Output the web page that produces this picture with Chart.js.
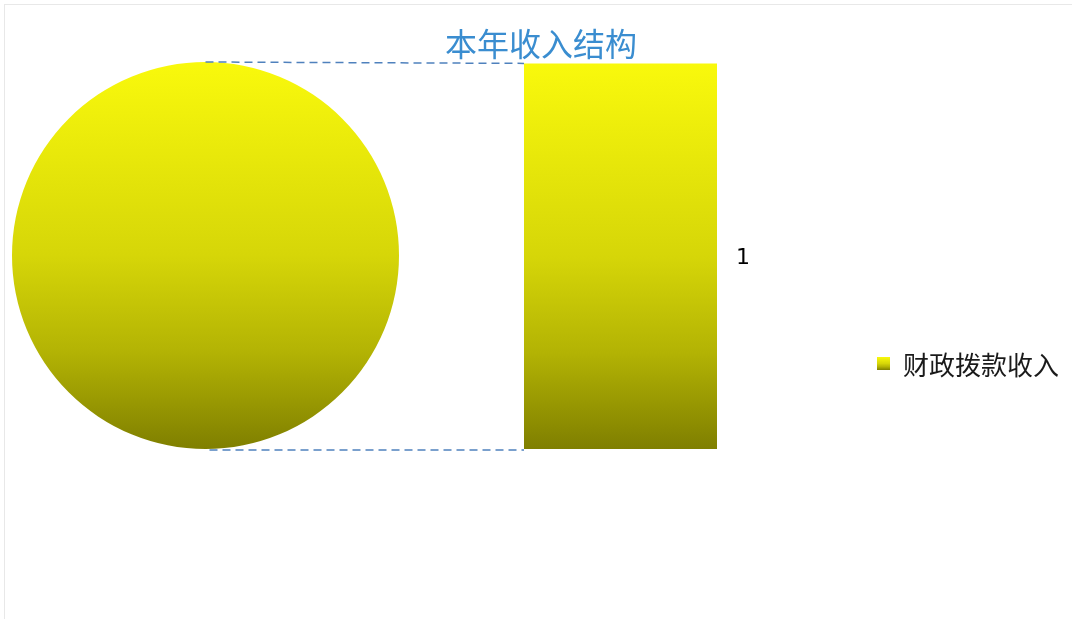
<!DOCTYPE html>
<html>
<head>
<meta charset="utf-8">
<title>本年收入结构</title>
<script src="https://cdn.jsdelivr.net/npm/chart.js@4.4.1/dist/chart.umd.min.js"></script>
<style>
  html, body { margin: 0; padding: 0; background: #fff; overflow: hidden; }
  #wrap { position: relative; width: 1072px; height: 619px; }
  #frame { position: absolute; left: 4px; top: 4px; width: 1080px; height: 630px;
           border: 1px solid #e8e8e8; box-sizing: border-box; }
  #pie-box { position: absolute; left: 12px; top: 62px; width: 387px; height: 387px; }
  #bar-box { position: absolute; left: 0; top: 0; width: 1072px; height: 619px; }
  #legend { position: absolute; left: 877px; top: 350px;
            font: 26px 'Noto Sans CJK SC', sans-serif; color: #1a1a1a; }
  .legend-item { display: flex; align-items: center; height: 27px; }
  .legend-box { width: 13px; height: 13px; margin-right: 13px; }
</style>
</head>
<body>
<div id="wrap">
  <div id="frame"></div>
  <div id="pie-box"><canvas id="pie-chart"></canvas></div>
  <div id="bar-box"><canvas id="bar-chart"></canvas></div>
  <div id="legend"></div>
</div>
<script>
'use strict';

const TITLE = '本年收入结构';
const categories = ['财政拨款收入'];
const values = [1];

// excel's fill stays bright for a while before it darkens
const GRADIENT_STOPS = [
	[0, '#f9f90c'],
	[0.5, '#d6d608'],
	[0.75, '#b3b304'],
	[1, '#7f7f00'],
];
const LINE_COLOR = '#4f81bd';
const CJK_FONT = "'Noto Sans CJK SC'";

const total = values.reduce((sum, v) => sum + v, 0);

function verticalGradient(ctx, top, bottom) {
	const gradient = ctx.createLinearGradient(0, top, 0, bottom);
	GRADIENT_STOPS.forEach(([stop, color]) => gradient.addColorStop(stop, color));
	return gradient;
}

function areaGradient(context) {
	const { ctx, chartArea } = context.chart;
	if (!chartArea) {
		return GRADIENT_STOPS[0][1];
	}
	return verticalGradient(ctx, chartArea.top, chartArea.bottom);
}

function makePieChart() {
	const ctx = document.querySelector('#pie-chart').getContext('2d');
	return new Chart(ctx, {
		type: 'pie',
		data: {
			labels: ['其他'],
			datasets: [{
				data: [total],
				backgroundColor: areaGradient,
				borderWidth: 0,
			}],
		},
		options: {
			responsive: true,
			maintainAspectRatio: false,
			animation: false,
			plugins: {
				legend: { display: false },
				tooltip: { enabled: false },
			},
		},
	});
}

const pieChart = makePieChart();

// dashed lines from the top and bottom of the pie to the bar
const connectorLines = {
	id: 'connectorLines',
	beforeDatasetsDraw(chart) {
		const arc = pieChart.getDatasetMeta(0).data[0];
		const pieRect = pieChart.canvas.getBoundingClientRect();
		const barRect = chart.canvas.getBoundingClientRect();
		const dx = pieRect.left - barRect.left;
		const dy = pieRect.top - barRect.top;
		const yScale = chart.scales.y;
		const firstBar = chart.getDatasetMeta(0).data[0];
		const barLeft = firstBar.x - firstBar.width / 2;
		const ctx = chart.ctx;

		ctx.save();
		ctx.strokeStyle = LINE_COLOR;
		ctx.lineWidth = 1.5;
		ctx.setLineDash([8, 5]);
		ctx.beginPath();
		ctx.moveTo(arc.x + dx, arc.y - arc.outerRadius + dy);
		ctx.lineTo(barLeft, yScale.getPixelForValue(total));
		ctx.moveTo(arc.x + dx + 4, arc.y + arc.outerRadius + dy + 1);
		ctx.lineTo(barLeft, yScale.getPixelForValue(0) + 1);
		ctx.stroke();
		ctx.restore();
	},
};

// value printed to the right of each bar segment
const valueLabels = {
	id: 'valueLabels',
	afterDatasetsDraw(chart) {
		const ctx = chart.ctx;
		ctx.save();
		ctx.font = "22px 'DejaVu Sans'";
		ctx.fillStyle = '#000';
		ctx.textAlign = 'left';
		ctx.textBaseline = 'middle';
		chart.data.datasets.forEach((dataset, i) => {
			const bar = chart.getDatasetMeta(i).data[0];
			ctx.fillText(String(dataset.data[0]), bar.x + bar.width / 2 + 19, (bar.y + bar.base) / 2 + 2);
		});
		ctx.restore();
	},
};

function makeBarChart() {
	const ctx = document.querySelector('#bar-chart').getContext('2d');
	const datasets = categories.map((name, i) => ({
		label: name,
		data: [values[i]],
		backgroundColor: areaGradient,
		borderWidth: 0,
		categoryPercentage: 1,
		barPercentage: 1,
	}));
	return new Chart(ctx, {
		type: 'bar',
		data: {
			labels: [''],
			datasets: datasets,
		},
		options: {
			responsive: true,
			maintainAspectRatio: false,
			animation: false,
			layout: {
				padding: { left: 365, right: 355, top: 0, bottom: 170 },
			},
			plugins: {
				title: {
					display: true,
					text: TITLE,
					color: '#3a8dd0',
					font: { family: CJK_FONT, size: 32, weight: 'normal' },
					padding: { top: 25, bottom: 0 },
				},
				legend: { display: false },
				tooltip: { enabled: false },
			},
			scales: {
				x: { display: false, stacked: true },
				y: {
					stacked: true,
					min: 0,
					max: total,
					grid: { display: false },
					border: { display: false },
					ticks: { display: false },
					// keeps the bar off to the right of the centred title
					afterFit: (scale) => { scale.width = 159; },
				},
			},
		},
		plugins: [connectorLines, valueLabels],
	});
}

const barChart = makeBarChart();

function buildLegend(chart) {
	const legend = document.querySelector('#legend');
	const css = GRADIENT_STOPS.map(([stop, color]) => `${color} ${stop * 100}%`).join(', ');
	chart.data.datasets.forEach((dataset) => {
		const item = document.createElement('div');
		item.className = 'legend-item';
		const box = document.createElement('span');
		box.className = 'legend-box';
		box.style.background = `linear-gradient(${css})`;
		const text = document.createElement('span');
		text.textContent = dataset.label;
		item.appendChild(box);
		item.appendChild(text);
		legend.appendChild(item);
	});
}

buildLegend(barChart);
</script>
</body>
</html>
